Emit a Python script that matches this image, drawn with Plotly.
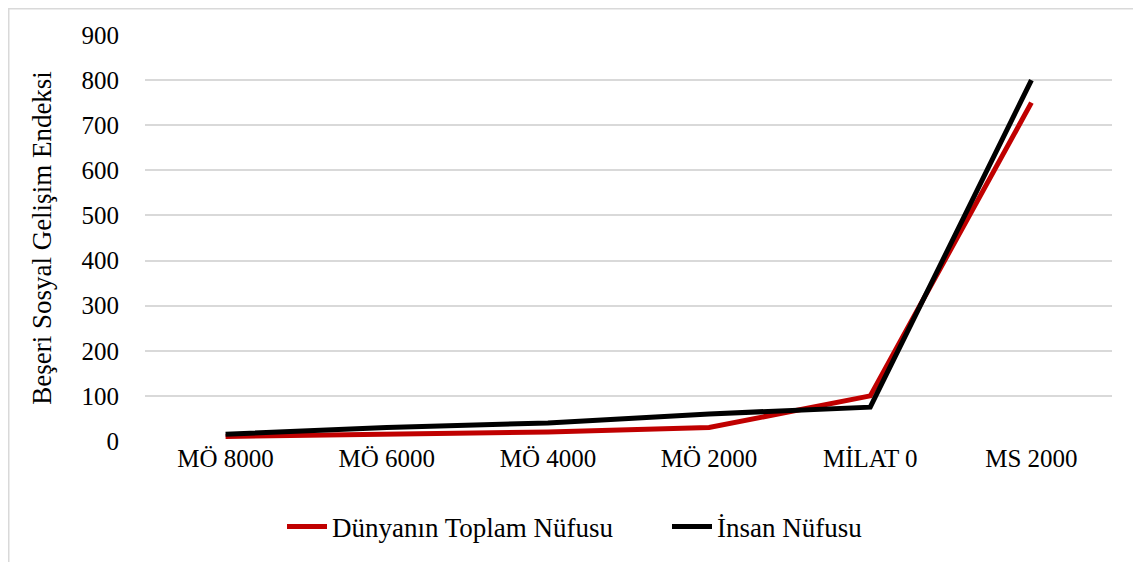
import plotly.graph_objects as go

categories = ["MÖ 8000", "MÖ 6000", "MÖ 4000", "MÖ 2000", "MİLAT 0", "MS 2000"]
dunya = [10, 15, 20, 30, 100, 750]
insan = [15, 30, 40, 60, 75, 800]
y_ticks = [0, 100, 200, 300, 400, 500, 600, 700, 800, 900]

W, H = 1141, 562
# page body adds an 8px offset, margins compensate for it
L, R, T, B = 137, 37, 27, 129
pw, ph = W - L - R, H - T - B

font = "Times New Roman"

fig = go.Figure()
fig.add_trace(go.Scatter(x=categories, y=dunya, mode="lines", name="Dünyanın Toplam Nüfusu",
                         line=dict(color="#C00000", width=5)))
fig.add_trace(go.Scatter(x=categories, y=insan, mode="lines", name="İnsan Nüfusu",
                         line=dict(color="#000000", width=5)))

fig.update_layout(
    width=W, height=H,
    margin=dict(l=L, r=R, t=T, b=B, autoexpand=False),
    paper_bgcolor="white", plot_bgcolor="white",
    font=dict(family=font, size=25, color="#000000"),
    showlegend=True,
    legend=dict(orientation="h", x=(282 - 8 - L) / pw, xanchor="left", y=(433 - 519) / ph, yanchor="middle",
                font=dict(family=font, size=27), itemwidth=40, tracegroupgap=0,
                entrywidth=330, entrywidthmode="pixels"),
    xaxis=dict(type="category", range=[-0.5, 5.5], showgrid=False, showline=False,
               ticks="", tickfont=dict(family=font, size=25), zeroline=False),
    yaxis=dict(range=[0, 900], tickvals=y_ticks, showgrid=True, gridcolor="#D9D9D9",
               gridwidth=1.5, zeroline=False, showline=False, ticks="",
               tickfont=dict(family=font, size=25), ticklabelstandoff=25,
               title=dict(text="Beşeri Sosyal Gelişim Endeksi", font=dict(family=font, size=27), standoff=22)),
)

# outer chart frame
fig.add_shape(type="rect", xref="paper", yref="paper",
              x0=(0.75 - L) / pw, x1=(W + 5 - L) / pw,
              y0=(H - B - (H + 5)) / ph, y1=(H - B - 0.75) / ph,
              line=dict(color="#D9D9D9", width=1.5), fillcolor="rgba(0,0,0,0)", layer="below")

fig.write_html("out.html")
